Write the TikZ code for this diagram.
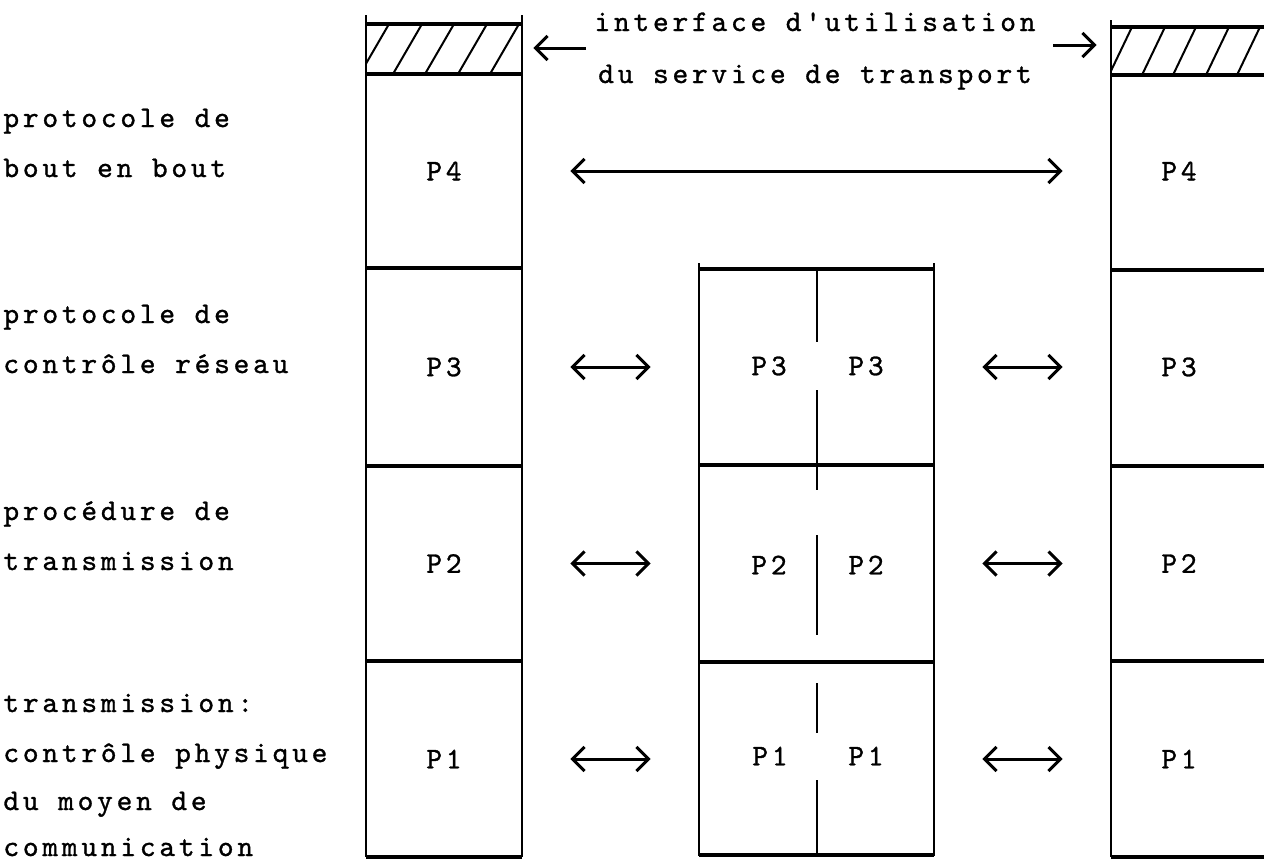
\documentclass[tikz,border=0pt]{standalone}
\usepackage{fontspec}
\usetikzlibrary{arrows.meta}
\newfontfamily\twfont{lmmono10-regular}[Extension=.otf, LetterSpace=12.5, FakeBold=1]
\newcommand{\tw}{\twfont\fontsize{15pt}{26pt}\selectfont}
\begin{document}
\begin{tikzpicture}[x=0.5pt,y=-0.5pt,
  hline/.style={line width=1.6pt},
  vline/.style={line width=1pt},
  hatchline/.style={line width=1pt},
  cell/.style={inner sep=0pt, minimum height=97pt, font=\tw},
  ptext/.style={inner sep=0pt, font=\tw},
  lbl/.style={anchor=base west, inner sep=0pt, font=\tw},
  arr/.style={line width=1.5pt, -{Straight Barb[length=6pt,width=12pt]}},
  darr/.style={line width=1.5pt, {Straight Barb[length=6pt,width=12pt]}-{Straight Barb[length=6pt,width=12pt]}, shorten <=24pt, shorten >=24pt},
]
\useasboundingbox (0,0) rectangle (1264,863);

% ---- cells (left column)
\node[cell, minimum width=78pt] (L4) at (444,171) {P4};
\node[cell, minimum width=78pt] (L3) at (444,367) {P3};
\node[cell, minimum width=78pt] (L2) at (444,563.5) {P2};
\node[cell, minimum width=78pt] (L1) at (444,759) {P1};
% ---- cells (right column)
\node[cell, minimum width=68pt] (R4) at (1179,171) {P4};
\node[cell, minimum width=68pt] (R3) at (1179,367) {P3};
\node[cell, minimum width=68pt] (R2) at (1179,563.5) {P2};
\node[cell, minimum width=68pt] (R1) at (1179,759) {P1};
% ---- cells (middle column)
\node[cell, minimum width=59pt] (M3a) at (758,367) {};
\node[cell, minimum width=58.5pt] (M3b) at (875.5,367) {};
\node[cell, minimum width=59pt] (M2a) at (758,563.5) {};
\node[cell, minimum width=58.5pt] (M2b) at (875.5,563.5) {};
\node[cell, minimum width=59pt] (M1a) at (758,759) {};
\node[cell, minimum width=58.5pt] (M1b) at (875.5,759) {};
\node[ptext] (tM3a) at (769,366) {P3};
\node[ptext] (tM3b) at (866,366) {P3};
\node[ptext] (tM2a) at (769,565) {P2};
\node[ptext] (tM2b) at (866,565) {P2};
\node[ptext] (tM1a) at (770,756) {P1};
\node[ptext] (tM1b) at (866,756) {P1};

% ---- hatched interface zones
\node[inner sep=0pt, minimum width=78pt, minimum height=25pt] (hatchL) at (444,49) {};
\node[inner sep=0pt, minimum width=78pt, minimum height=24pt] (hatchR) at (1189,51) {};
\begin{scope}
  \clip (366,24) rectangle (522,74);
  \foreach \x in {360,393,425,458,490} \draw[hatchline] (\x,74) -- ++(29,-50);
\end{scope}
\begin{scope}
  \clip (1111,27) rectangle (1270,75);
  \foreach \x in {1109,1142,1173,1206,1237} \draw[hatchline] (\x,75) -- ++(23,-48);
\end{scope}

% ---- left column frame
\draw[vline] (366,15) -- (366,857);
\draw[vline] (522,15) -- (522,857);
\foreach \y in {24,74,268,466,661,857} \draw[hline] (366,\y) -- (522,\y);
% ---- right column frame
\draw[vline] (1111,20) -- (1111,857);
\foreach \y in {27,75,270,466,661,857} \draw[hline] (1111,\y) -- (1270,\y);
% ---- middle column frame
\draw[vline] (699,263) -- (699,856);
\draw[vline] (934,263) -- (934,856);
\foreach \y in {269,465,662,855} \draw[hline] (699,\y) -- (934,\y);
\foreach \a/\b in {269/342,390/490,535/635,683/733,780/855} \draw[vline] (817,\a) -- (817,\b);

% ---- interface text and arrows
\node[ptext, align=center] (iface) at (815,51) {interface d'utilisation\\du service de transport};
\coordinate (ifL) at (586,48);
\coordinate (ifR) at (1053,45);
\draw[arr, shorten >=5.5pt] (ifL) -- (ifL -| hatchL.east);
\draw[arr, shorten >=7pt] (ifR) -- (ifR -| hatchR.west);

% ---- protocol arrows
\draw[darr] (L4.east) -- (R4.west);
\draw[darr] (L3.east) -- (M3a.west);
\draw[darr] (M3b.east) -- (R3.west);
\draw[darr] (L2.east) -- (M2a.west);
\draw[darr] (M2b.east) -- (R2.west);
\draw[darr] (L1.east) -- (M1a.west);
\draw[darr] (M1b.east) -- (R1.west);

% ---- left labels
\node[lbl] (a1) at (3,127) {protocole de};
\node[lbl] (a2) at (3,177) {bout en bout};
\node[lbl] (b1) at (3,323) {protocole de};
\node[lbl] (b2) at (3,373) {contrôle réseau};
\node[lbl] (c1) at (3,520) {procédure de};
\node[lbl] (c2) at (3,570) {transmission};
\node[lbl] (d1) at (3,712) {transmission:};
\node[lbl] (d2) at (3,762) {contrôle physique};
\node[lbl] (d3) at (3,810) {du moyen de};
\node[lbl] (d4) at (3,856) {communication};
\end{tikzpicture}
\end{document}
